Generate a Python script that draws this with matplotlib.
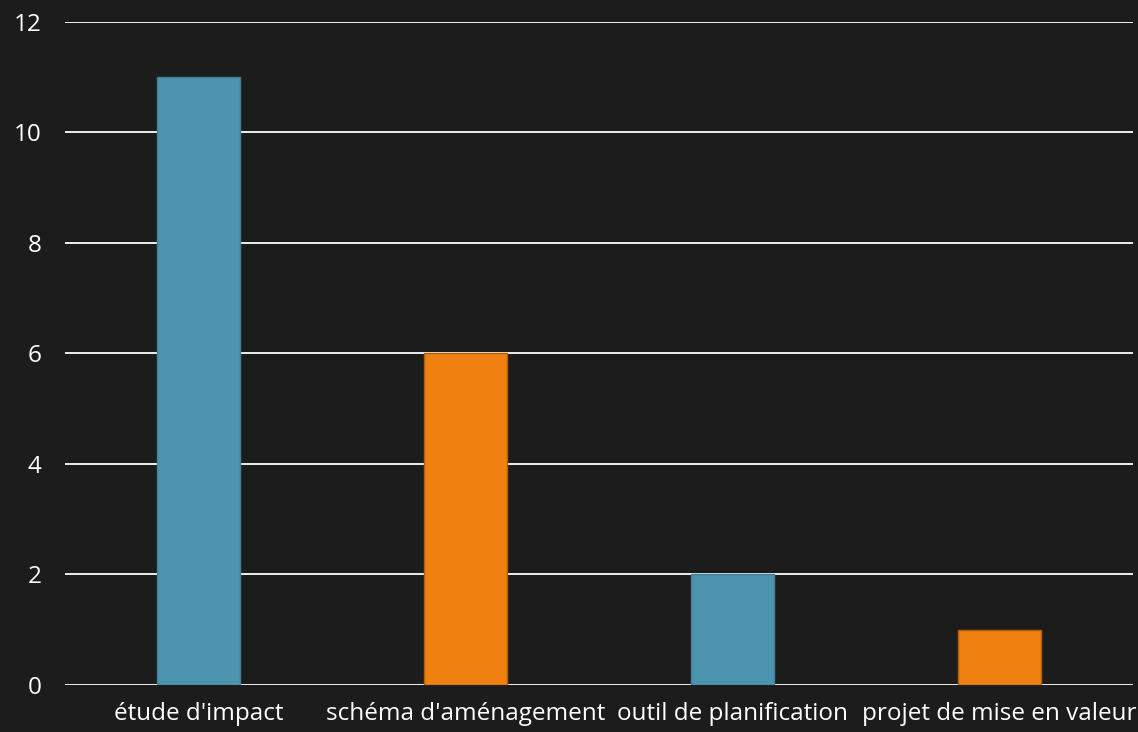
import matplotlib
matplotlib.use("Agg")
import matplotlib.pyplot as plt

categories = ["étude d'impact", "schéma d'aménagement", "outil de planification", "projet de mise en valeur"]
values = [11, 6, 2, 1]
colors = ["#4c94ad", "#f0800f", "#4c94ad", "#f0800f"]
edges = ["#467f92", "#b0600c", "#467f92", "#b0600c"]
yticks = [0, 2, 4, 6, 8, 10, 12]

plt.rcParams['font.family'] = ['Open Sans', 'DejaVu Sans']
fig = plt.figure(figsize=(11.38, 7.32), dpi=100)
fig.patch.set_facecolor("#1c1c1c")
ax = fig.add_axes([0.0571, 0.0642, 0.9385, 0.9058])
ax.set_facecolor("#1c1c1c")

x = list(range(len(categories)))
ax.bar(x, values, width=0.31, color=colors, edgecolor=edges, linewidth=1.0, zorder=3)
ax.set_xlim(-0.5, len(categories) - 0.5)
ax.set_ylim(0, 12)
ax.set_yticks(yticks)
ax.set_yticklabels([str(v) for v in yticks])
ax.set_xticks(x)
ax.set_xticklabels(categories)
ax.yaxis.grid(True, color="white", linewidth=1.3, zorder=1)
ax.set_axisbelow(True)
for s in ax.spines.values():
    s.set_visible(False)
ax.tick_params(axis="both", length=0, colors="white", labelsize=17.5)
ax.tick_params(axis="y", pad=17)
ax.tick_params(axis="x", pad=12)
fig.savefig("out.png", dpi=100, facecolor=fig.get_facecolor())
